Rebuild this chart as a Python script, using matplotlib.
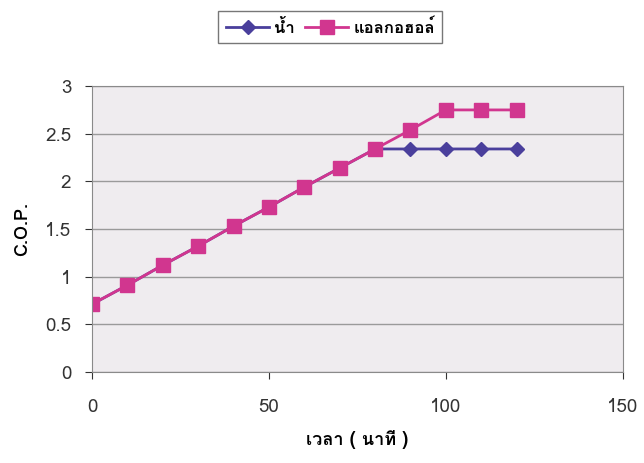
import matplotlib
matplotlib.use('Agg')
import matplotlib.pyplot as plt
from matplotlib import font_manager

# data
minutes = [0, 10, 20, 30, 40, 50, 60, 70, 80, 90, 100, 110, 120]
water = [0.71, 0.91, 1.12, 1.32, 1.53, 1.73, 1.94, 2.14, 2.34, 2.34, 2.34, 2.34, 2.34]
alcohol = [0.71, 0.91, 1.12, 1.32, 1.53, 1.73, 1.94, 2.14, 2.34, 2.54, 2.75, 2.75, 2.75]
series_names = ['น้ำ', 'แอลกอฮอล์']
x_label = 'เวลา ( นาที )'
y_label = 'C.O.P.'


def find_thai_font():
    try:
        from fontTools.ttLib import TTFont
    except ImportError:
        return None
    for fe in font_manager.fontManager.ttflist:
        try:
            cmap = TTFont(fe.fname, fontNumber=0, lazy=True).getBestCmap()
            if cmap and 0x0E19 in cmap:
                return fe.name
        except Exception:
            pass
    return None


thai = find_thai_font()
fams = ([thai] if thai else []) + ['Liberation Sans', 'DejaVu Sans']
plt.rcParams['font.family'] = fams

fig = plt.figure(figsize=(6.44, 4.63), dpi=100)
ax = fig.add_axes([0.143, 0.197, 0.824, 0.617])
ax.set_facecolor('#efecef')

ax.plot(minutes, water, color='#4a3f9c', marker='D', markersize=7, lw=2,
        label=series_names[0])
ax.plot(minutes, alcohol, color='#d1368f', marker='s', markersize=10.5, lw=2,
        label=series_names[1])

ax.set_xlim(0, 150)
ax.set_ylim(0, 3)
ax.set_xticks([0, 50, 100, 150])
ax.set_yticks([0, 0.5, 1, 1.5, 2, 2.5, 3])
ax.set_yticklabels(['0', '0.5', '1', '1.5', '2', '2.5', '3'])
ax.yaxis.grid(True, color='#9a9a9a', lw=1)
ax.set_axisbelow(True)
for s in ax.spines.values():
    s.set_color('#8a8a8a')
ax.tick_params(labelsize=13.5, colors='#333333', direction='out', length=5)
ax.tick_params(axis='x', pad=14)
ax.tick_params(axis='y', pad=10)

ax.set_xlabel(x_label, fontsize=13, fontweight='bold', labelpad=10)
ax.set_ylabel(y_label, fontsize=13, fontweight='bold', labelpad=10)

fig.legend(loc='upper center', bbox_to_anchor=(0.513, 0.995), ncol=2,
           frameon=True, fancybox=False, edgecolor='#555555',
           handlelength=2.6, columnspacing=0.6, handletextpad=0.3,
           borderpad=0.45, prop={'weight': 'bold', 'size': 12})

fig.savefig('out.png', dpi=100)
